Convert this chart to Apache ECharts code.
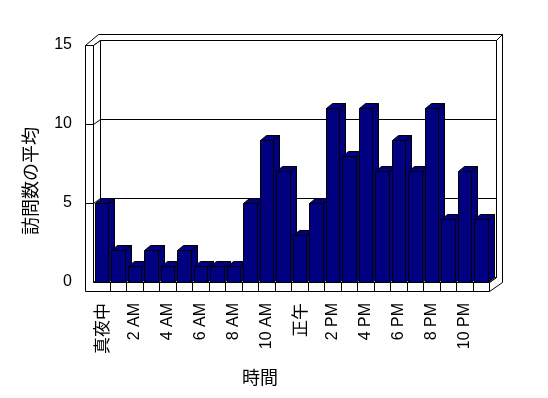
<!DOCTYPE html>
<html><head><meta charset="utf-8">
<script src="https://cdn.jsdelivr.net/npm/echarts@6/dist/echarts.min.js"></script>
<style>html,body{margin:0;padding:0;background:#fff}#c{width:548px;height:398px}</style>
</head><body><div id="c"></div>
<script>
// ---- data ----
const categories = ['真夜中','1 AM','2 AM','3 AM','4 AM','5 AM','6 AM','7 AM','8 AM','9 AM','10 AM','11 AM',
                    '正午','1 PM','2 PM','3 PM','4 PM','5 PM','6 PM','7 PM','8 PM','9 PM','10 PM','11 PM'];
const visits = [5,2,1,2,1,2,1,1,1,5,9,7,3,5,11,8,11,7,9,7,11,4,7,4];
const yMin = 0, yMax = 15, yStep = 5;
const gridValues = [5, 10];
const yTitle = '訪問数の平均';
const xTitle = '時間';

const FONT = '"Liberation Sans","Noto Sans CJK JP",sans-serif';
const CJK = '"Noto Sans CJK JP",sans-serif';
const NAVY = '#000080';

function P(x, y) { return [Math.round(x) + 0.5, Math.round(y) + 0.5]; }

function renderFrame(params, api) {
  const cs = params.coordSys;
  const L = cs.x, T = cs.y, R = cs.x + cs.width, B = cs.y + cs.height;
  const dx = 7, dy = -5, tx = 6, ty = -6, wl = 8, fb = 9;
  const st = {fill: '#fff', stroke: '#000', lineWidth: 1};
  const ln = {stroke: '#000', lineWidth: 1, fill: null};
  const ch = [];
  const poly = pts => ch.push({type: 'polygon', shape: {points: pts.map(p => P(p[0], p[1]))}, style: st});
  const line = (a, b) => { const p = P(a[0], a[1]), q = P(b[0], b[1]);
    ch.push({type: 'line', shape: {x1: p[0], y1: p[1], x2: q[0], y2: q[1]}, style: ln}); };
  poly([[L+dx,T+dy],[R+dx,T+dy],[R+dx,B+dy],[L+dx,B+dy]]);
  poly([[L-wl,T],[L,T],[L+dx,T+dy],[R+dx,T+dy],[R+dx+tx,T+dy+ty],[L-wl+dx+tx,T+dy+ty]]);
  poly([[R+dx,T+dy],[R+dx+tx,T+dy+ty],[R+dx+tx,B],[R,B+fb],[R,B],[R+dx,B+dy]]);
  poly([[L,T],[L+dx,T+dy],[L+dx,B+dy],[L,B]]);
  poly([[L,B],[R,B],[R+dx,B+dy],[L+dx,B+dy]]);
  poly([[L-wl,T],[L,T],[L,B],[R,B],[R,B+fb],[L-wl,B+fb]]);
  const n = categories.length, bw = cs.width / n;
  for (let i = 1; i < n; i++) line([L + i*bw, B], [L + i*bw, B + fb]);
  gridValues.forEach(v => {
    const y = api.coord([0, v])[1];
    line([L-wl, y], [L, y]);
    line([L, y], [L+dx, y+dy]);
    line([L+dx, y+dy], [R+dx, y+dy]);
  });
  return {type: 'group', children: ch};
}

function renderBar(params, api) {
  const i = api.value(0), v = api.value(1);
  const top = api.coord([i, v]), base = api.coord([i, 0]);
  const bw = api.size([1, 0])[0];
  const s = base[0] - bw/2;
  const x0 = s + bw*0.12, x1 = s + bw*0.93;
  const yT = top[1], yB = base[1];
  const dx = 6, dy = -5;
  const st = {fill: NAVY, stroke: '#000', lineWidth: 1};
  const mk = pts => ({type: 'polygon', shape: {points: pts.map(p => P(p[0], p[1]))}, style: st});
  return {type: 'group', children: [
    mk([[x1,yT],[x1+dx,yT+dy],[x1+dx,yB+dy],[x1,yB]]),
    mk([[x0,yT],[x1,yT],[x1+dx,yT+dy],[x0+dx,yT+dy]]),
    mk([[x0,yT],[x1,yT],[x1,yB],[x0,yB]])
  ]};
}

const chart = echarts.init(document.getElementById('c'), null, {renderer: 'canvas'});
chart.setOption({
  animation: false,
  backgroundColor: '#fff',
  grid: {left: 93, right: 59, top: 45, bottom: 116},
  xAxis: {
    type: 'category', data: categories,
    axisLine: {show: false}, axisTick: {show: false}, splitLine: {show: false},
    axisLabel: {interval: 1, rotate: 90, margin: 21, color: '#000', fontSize: 16, fontFamily: FONT,
      formatter: v => /[^\x00-\x7f]/.test(v) ? '{c|' + v + '}' : v,
      rich: {c: {fontSize: 17, fontFamily: CJK, color: '#000'}}}
  },
  yAxis: {
    type: 'value', min: yMin, max: yMax, interval: yStep,
    axisLine: {show: false}, axisTick: {show: false}, splitLine: {show: false},
    axisLabel: {margin: 21, color: '#000', fontSize: 16, fontFamily: FONT}
  },
  graphic: [
    {type: 'text', x: 30, y: 181, rotation: Math.PI/2,
     style: {text: yTitle, fill: '#000', font: '18px ' + CJK, align: 'center', verticalAlign: 'middle'}},
    {type: 'text', x: 260, y: 377,
     style: {text: xTitle, fill: '#000', font: '18px ' + CJK, align: 'center', verticalAlign: 'middle'}}
  ],
  series: [
    {type: 'custom', renderItem: renderFrame, data: [[0, 0]], clip: false, z: 1, silent: true},
    {type: 'custom', renderItem: renderBar, data: visits.map((v, i) => [i, v]), clip: false, z: 2}
  ]
});
</script></body></html>
